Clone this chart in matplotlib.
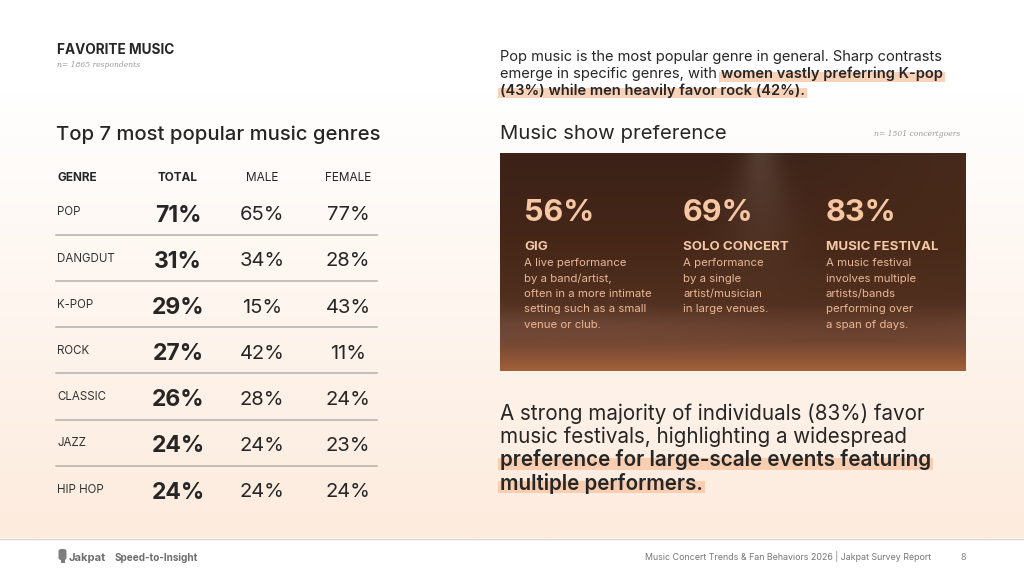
import numpy as np
import matplotlib.pyplot as plt
from matplotlib.patches import Rectangle, FancyBboxPatch
from matplotlib.colors import to_rgb

plt.rcParams['font.family'] = ['Inter', 'DejaVu Sans']

W, H = 1024, 576
INK = "#262626"
HL = "#f8c4a0"
PEACH = "#f7c6a2"

# ---- data ----
genres = ["POP", "DANGDUT", "K-POP", "ROCK", "CLASSIC", "JAZZ", "HIP HOP"]
total_pct = [71, 31, 29, 27, 26, 24, 24]
male_pct = [65, 34, 15, 42, 28, 24, 24]
female_pct = [77, 28, 43, 11, 24, 23, 24]
table_cols = ["GENRE", "TOTAL", "MALE", "FEMALE"]

show_types = ["GIG", "SOLO CONCERT", "MUSIC FESTIVAL"]
show_pct = [56, 69, 83]
show_desc = [
    ["A live performance", "by a band/artist,", "often in a more intimate",
     "setting such as a small", "venue or club."],
    ["A performance", "by a single", "artist/musician", "in large venues."],
    ["A music festival", "involves multiple", "artists/bands",
     "performing over", "a span of days."],
]

intro_lines = [
    [("Pop music is the most popular genre in general. Sharp contrasts", False)],
    [("emerge in specific genres, with", False), ("women vastly preferring K-pop", True)],
    [("(43%) while men heavily favor rock (42%).", True)],
]
outro_lines = [
    [("A strong majority of individuals (83%) favor", False)],
    [("music festivals, highlighting a widespread", False)],
    [("preference for large-scale events featuring", True)],
    [("multiple performers.", True)],
]

fig = plt.figure(figsize=(W / 100, H / 100), dpi=100)
ax = fig.add_axes([0, 0, 1, 1])
ax.set_xlim(0, W)
ax.set_ylim(H, 0)
ax.axis("off")
renderer = fig.canvas.get_renderer()


def blend(c1, c2, t):
    c1, c2 = np.array(to_rgb(c1)), np.array(to_rgb(c2))
    return c1 + (c2 - c1) * t


# page background: white fading to light peach
rows = np.linspace(0, 538, 300)
t = np.clip((rows - 90) / (538 - 90), 0, 1)[:, None]
bg = blend("#ffffff", "#fdebdd", t)[:, None, :]
ax.imshow(np.repeat(bg, 2, axis=1), extent=(0, W, 538, 0), aspect="auto", zorder=0)
ax.add_patch(Rectangle((0, 539), W, H - 539, color="white", zorder=1, lw=0))
ax.plot([0, W], [539, 539], color="#dcd5cf", lw=1, zorder=2)


def text_width(s, size, weight):
    tt = ax.text(0, 0, s, fontsize=size, fontweight=weight)
    bb = tt.get_window_extent(renderer)
    tt.remove()
    return bb.width


def draw_runs(x, y, runs, size, strong_w, hl_up, hl_down):
    space = text_width("a a", size, "normal") - text_width("aa", size, "normal")
    for i, (s, strong) in enumerate(runs):
        if i > 0:
            x += space
        tt = ax.text(x, y, s, fontsize=size, va="baseline", ha="left", color=INK,
                     fontweight=strong_w if strong else "normal", zorder=6)
        bb = tt.get_window_extent(renderer)
        x1 = ax.transData.inverted().transform((bb.x1, bb.y0))[0]
        if strong:
            ax.add_patch(Rectangle((x - 2, y - hl_up), x1 - x + 4, hl_up + hl_down,
                                   color=HL, alpha=0.75, lw=0, zorder=5))
        x = x1


# ---- left: table ----
ax.text(57, 54, "FAVORITE MUSIC", fontsize=9.8, fontweight="bold", color=INK, va="baseline")
ax.text(57, 67, "n= 1865 respondents", fontsize=5.5, style="italic", color="#9a9a9a",
        family="DejaVu Serif", va="baseline")
ax.text(56, 140, "Top 7 most popular music genres", fontsize=14.6, color=INK,
        fontweight="medium", va="baseline")

col_x = [57, 178, 262, 348]
for j, name in enumerate(table_cols):
    ax.text(col_x[j], 180.7, name, fontsize=8.5, color=INK, va="baseline",
            ha="left" if j == 0 else "center",
            fontweight="bold" if j < 2 else "normal")

step = 46.2
for i, g in enumerate(genres):
    ax.text(57, 215.3 + i * step, g, fontsize=8.3, color="#333333", va="baseline")
    ax.text(col_x[1], 221.5 + i * step, f"{total_pct[i]}%", fontsize=16.5,
            fontweight="bold", color=INK, ha="center", va="baseline")
    ax.text(col_x[2], 220.2 + i * step, f"{male_pct[i]}%", fontsize=14.5,
            color=INK, ha="center", va="baseline")
    ax.text(col_x[3], 220.2 + i * step, f"{female_pct[i]}%", fontsize=14.5,
            color=INK, ha="center", va="baseline")
    if i < len(genres) - 1:
        ax.plot([56, 377], [234.8 + i * step] * 2, color="#b5b0ac", lw=1.1, zorder=3)

# ---- right: intro paragraph ----
for k, line in enumerate(intro_lines):
    draw_runs(500, 61.5 + k * 16.7, line, 10.55, "semibold", 6.5, 3.5)

ax.text(500, 139.3, "Music show preference", fontsize=14.6, color=INK, va="baseline")
ax.text(960, 136, "n= 1501 concertgoers", fontsize=5.5, style="italic", color="#9a9a9a",
        family="DejaVu Serif", ha="right", va="baseline")

# ---- dark box ----
bx0, bx1, by0, by1 = 500, 966, 153, 371
ny, nx = 220, 470
yy = np.linspace(0, 1, ny)[:, None]
xx = np.linspace(0, 1, nx)[None, :]
stops = [(0.0, "#3b2118"), (0.45, "#472819"), (0.7, "#52301f"),
         (0.86, "#6e4230"), (1.0, "#a2603a")]
img = np.zeros((ny, nx, 3))
for (t0, c0), (t1, c1) in zip(stops[:-1], stops[1:]):
    m = (yy[:, 0] >= t0) & (yy[:, 0] <= t1)
    tt = ((yy[m, 0] - t0) / (t1 - t0))[:, None]
    img[m] = blend(c0, c1, tt)[:, None, :]
# warm golden tint toward top right
gold = np.clip(xx - 0.45, 0, 1) * np.clip(1 - yy / 0.7, 0, 1) * 0.45
img = img + gold[..., None] * (np.array(to_rgb("#6a4622")) - img)
# faint spotlight cone
sig = 0.035 + 0.12 * yy
beam = np.exp(-((xx - 0.56) / sig) ** 2) * np.clip(1 - yy / 0.7, 0, 1) * 0.22
img = img + beam[..., None] * (np.array(to_rgb("#a8968c")) - img)
# hazy band near the floor
haze = np.exp(-((yy - 0.8) / 0.08) ** 2) * (0.7 + 0.3 * np.sin(xx * 5 + 1)) * 0.2
img = img + haze[..., None] * (np.array(to_rgb("#9a7565")) - img)
ax.imshow(np.clip(img, 0, 1), extent=(bx0, bx1, by1, by0), aspect="auto", zorder=2)

sx = [524, 683, 826]
for j in range(3):
    ax.text(sx[j], 221, f"{show_pct[j]}%", fontsize=22, fontweight="bold",
            color=PEACH, va="baseline", zorder=6)
    ax.text(sx[j], 250, show_types[j], fontsize=9.6, fontweight="bold",
            color="#f5c8a6", va="baseline", zorder=6)
    for k, d in enumerate(show_desc[j]):
        ax.text(sx[j], 266.3 + k * 15.4, d, fontsize=8.2, color="#eab797",
                va="baseline", zorder=6)

# ---- right: closing paragraph ----
for k, line in enumerate(outro_lines):
    draw_runs(500, 420 + k * 23.2, line, 14.85, "semibold", 8.5, 3.5)

# ---- footer ----
ax.add_patch(FancyBboxPatch((58.5, 549), 8, 11, boxstyle="round,pad=0,rounding_size=2.5",
                            color="#7d7d7d", lw=0, zorder=3))
ax.add_patch(Rectangle((60.5, 559), 4, 4, color="#7d7d7d", lw=0, zorder=3))
ax.text(69, 561, "Jakpat", fontsize=8, fontweight="bold", color="#6e6e6e", va="baseline")
ax.text(115, 561, "Speed-to-Insight", fontsize=7.2, fontweight="bold", color="#6e6e6e",
        va="baseline")
ax.text(931, 560.5, "Music Concert Trends & Fan Behaviors 2026 | Jakpat Survey Report",
        fontsize=6.4, color="#777777", ha="right", va="baseline")
ax.text(963, 560.5, "8", fontsize=6.6, color="#888888", ha="center", va="baseline")

fig.savefig("out.png", dpi=100)
